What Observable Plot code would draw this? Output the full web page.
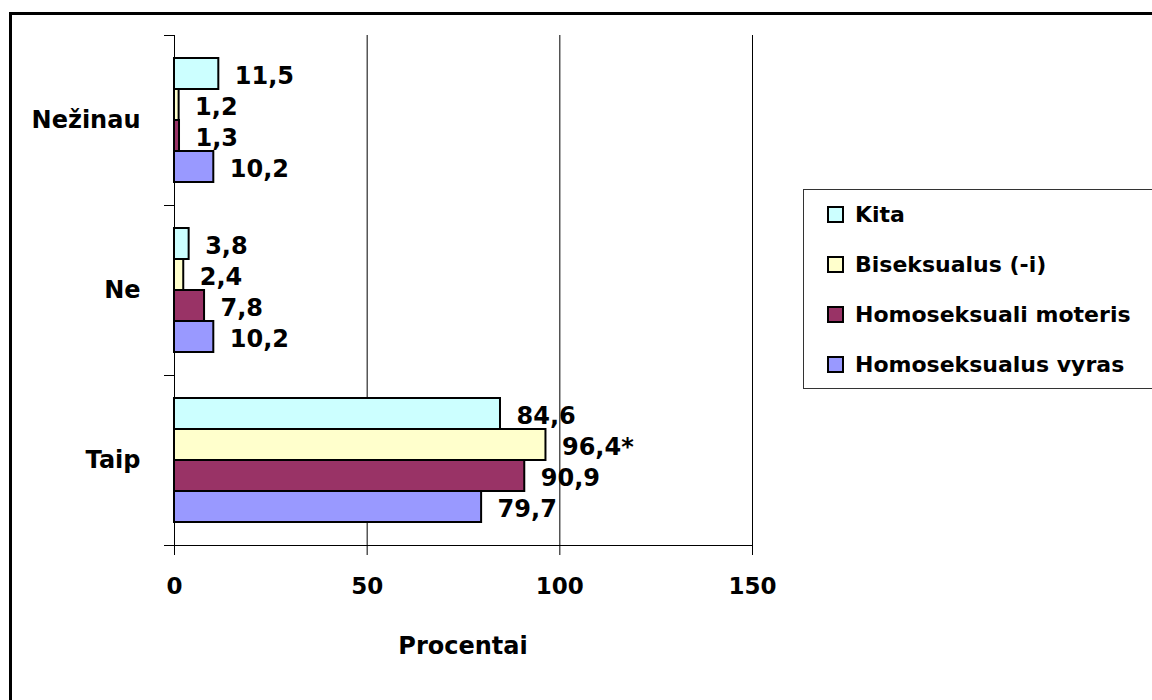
<!DOCTYPE html>
<html lang="lt">
<head>
<meta charset="utf-8">
<script src="https://cdn.jsdelivr.net/npm/d3@7"></script>
<script src="https://cdn.jsdelivr.net/npm/@observablehq/plot@0.6"></script>
<style>
  html, body { margin: 0; padding: 0; background: #fff; }
  #page { position: relative; width: 1152px; height: 700px; overflow: hidden; background: #fff;
          font-family: "DejaVu Sans", sans-serif; font-weight: bold; color: #000; }
  #outline { position: absolute; left: 9px; top: 12px; width: 1300px; height: 800px;
             border: 3px solid #000; box-sizing: border-box; }
  #chart { position: absolute; left: 0; top: 0; }
  #xtitle { position: absolute; left: 174px; width: 578px; top: 632px; text-align: center; font-size: 24px; }
  #legend { position: absolute; left: 803px; top: 189px; width: 400px; height: 200px;
            border: 1.5px solid #333; box-sizing: border-box; font-size: 22px; }
  .item { position: absolute; left: 23px; height: 30px; display: flex; align-items: center; white-space: nowrap; }
  .swatch { width: 17px; height: 17px; border: 2px solid #000; box-sizing: border-box; margin-right: 11px; }
</style>
</head>
<body>
<div id="page">
  <div id="outline"></div>
  <div id="chart"></div>
  <div id="xtitle">Procentai</div>
  <div id="legend"></div>
</div>
<script>
// Answer categories (top to bottom) and respondent groups (top to bottom within each category)
const categories = ["Nežinau", "Ne", "Taip"];
const groups = ["Kita", "Biseksualus (-i)", "Homoseksuali moteris", "Homoseksualus vyras"];
const groupColors = ["#CCFFFF", "#FFFFCC", "#993366", "#9999FF"];

// Percentages per group, in the order of `categories`
const kita = [11.5, 3.8, 84.6];
const biseksualus = [1.2, 2.4, 96.4];
const homoMoteris = [1.3, 7.8, 90.9];
const homoVyras = [10.2, 10.2, 79.7];

// Values carrying a footnote marker
const footnotes = [{group: "Biseksualus (-i)", category: "Taip", mark: "*"}];

const seriesValues = [kita, biseksualus, homoMoteris, homoVyras];
const fmt = v => d3.format(".1f")(v).replace(".", ",");

const rows = [];
groups.forEach((g, gi) => {
  categories.forEach((c, ci) => {
    const value = seriesValues[gi][ci];
    const note = footnotes.find(f => f.group === g && f.category === c);
    rows.push({group: g, category: c, value, label: fmt(value) + (note ? note.mark : "")});
  });
});

const W = 1152, H = 700;
const mL = 174, mR = 400, mT = 35, mB = 155;
const innerW = W - mL - mR;

const chart = Plot.plot({
  width: W,
  height: H,
  marginLeft: mL,
  marginRight: mR,
  marginTop: mT,
  marginBottom: mB,
  style: {
    fontFamily: "DejaVu Sans, sans-serif",
    fontWeight: "bold",
    fontSize: "24px",
    color: "#000",
    background: "transparent",
    overflow: "visible"
  },
  x: {domain: [0, 150]},
  y: {domain: groups, paddingInner: 0, paddingOuter: 0.72, axis: null},
  fy: {domain: categories, padding: 0},
  color: {domain: groups, range: groupColors},
  marks: [
    // value axis line and vertical gridlines
    Plot.ruleX([0, 50, 100, 150], {stroke: "#000", strokeWidth: 1}),
    // category boundary ticks on the left
    Plot.frame({anchor: "top", insetLeft: -10, insetRight: innerW, stroke: "#000", strokeWidth: 1}),
    Plot.frame({anchor: "bottom", insetLeft: -10, insetRight: innerW, stroke: "#000", strokeWidth: 1}),
    // baseline under the last category
    Plot.frame({anchor: "bottom", insetLeft: -10, fy: ["Taip"], stroke: "#000", strokeWidth: 1}),
    Plot.barX(rows, {
      fy: "category",
      y: "group",
      x: "value",
      fill: "group",
      stroke: "#000",
      strokeWidth: 2
    }),
    Plot.text(rows, {
      fy: "category",
      y: "group",
      x: "value",
      text: "label",
      textAnchor: "start",
      dx: 16,
      dy: 2,
      fontSize: 24,
      fontWeight: "bold",
      fill: "#000"
    }),
    Plot.axisX({
      ticks: [0, 50, 100, 150],
      tickFormat: d => String(d),
      tickSize: 10,
      tickPadding: 22,
      label: null,
      fontSize: 23,
      stroke: "#000"
    }),
    Plot.axisFy({
      anchor: "left",
      tickSize: 0,
      tickPadding: 34,
      label: null,
      fontSize: 24
    })
  ]
});

document.getElementById("chart").append(chart);

// Legend
const legend = document.getElementById("legend");
groups.forEach((g, i) => {
  const item = document.createElement("div");
  item.className = "item";
  item.style.top = (9 + i * 50) + "px";
  const sw = document.createElement("span");
  sw.className = "swatch";
  sw.style.background = groupColors[i];
  const label = document.createElement("span");
  label.textContent = g;
  item.append(sw, label);
  legend.append(item);
});
</script>
</body>
</html>
